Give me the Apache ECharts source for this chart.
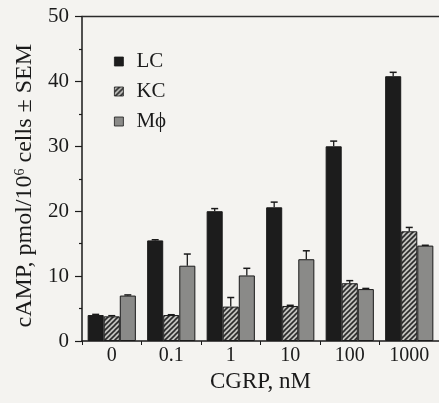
<!DOCTYPE html>
<html><head><meta charset="utf-8">
<script src="https://cdn.jsdelivr.net/npm/echarts@6/dist/echarts.min.js"></script>
<style>html,body{margin:0;padding:0;background:#f4f3f0}#c{width:439px;height:403px}</style>
</head><body><div id="c"></div>
<script>
const categories = ['0', '0.1', '1', '10', '100', '1000'];
const lcValues = [4.0, 15.5, 20.0, 20.6, 30.0, 40.8];
const lcErrors = [0.1, 0.1, 0.4, 0.8, 0.8, 0.6];
const kcValues = [3.8, 4.0, 5.3, 5.4, 8.9, 16.9];
const kcErrors = [0.1, 0.05, 1.4, 0.1, 0.4, 0.6];
const mfValues = [7.0, 11.6, 10.1, 12.6, 8.0, 14.7];
const mfErrors = [0.1, 1.8, 1.1, 1.3, 0.1, 0.05];
const seriesNames = ['LC', 'KC', 'M\u03D5'];
const yTicks = {min: 0, max: 50, interval: 10};

const FONT = '"Liberation Serif", "DejaVu Serif", serif';
const BAR_FRAC = 0.27;

// hatch pattern
const pc = document.createElement('canvas');
pc.width = 5; pc.height = 5;
const g = pc.getContext('2d');
g.fillStyle = '#c4c4c0'; g.fillRect(0, 0, 5, 5);
g.strokeStyle = '#2a2a2a'; g.lineWidth = 1.6;
for (let k = -1; k <= 2; k++) {
  g.beginPath(); g.moveTo(k * 5 - 1, 6); g.lineTo(k * 5 + 6, -1); g.stroke();
}
const hatch = {image: pc, repeat: 'repeat'};

const colors = ['#1c1c1c', hatch, '#8a8a88'];
const valueSets = [lcValues, kcValues, mfValues];
const errorSets = [lcErrors, kcErrors, mfErrors];

const barSeries = seriesNames.map((n, i) => ({
  name: n, type: 'bar', data: valueSets[i], barWidth: (BAR_FRAC * 100) + '%', barGap: '0%',
  itemStyle: {color: colors[i], borderColor: '#1a1a1a', borderWidth: 1},
  z: 2
}));

const errSeries = seriesNames.map((n, i) => ({
  type: 'custom', z: 3, silent: true,
  data: categories.map((c, j) => [j, valueSets[i][j], errorSets[i][j]]),
  renderItem: function (params, api) {
    const j = api.value(0), v = api.value(1), e = api.value(2);
    const band = api.size([1, 0])[0];
    const bw = band * BAR_FRAC;
    const base = api.coord([j, v]);
    const top = api.coord([j, v + e]);
    const x = base[0] + (i - 1) * bw;
    const cap = 3.5;
    return {
      type: 'group', children: [
        {type: 'line', shape: {x1: x, y1: base[1], x2: x, y2: top[1]}, style: {stroke: '#1a1a1a', lineWidth: 1.3}},
        {type: 'line', shape: {x1: x - cap, y1: top[1], x2: x + cap, y2: top[1]}, style: {stroke: '#1a1a1a', lineWidth: 1.5}}
      ]
    };
  }
}));

const chart = echarts.init(document.getElementById('c'), null, {renderer: 'canvas'});
chart.setOption({
  backgroundColor: '#f4f3f0',
  animation: false,
  textStyle: {fontFamily: FONT},
  legend: {
    orient: 'vertical', left: 109, top: 46, itemWidth: 9, itemHeight: 9, itemGap: 9,
    icon: 'rect',
    textStyle: {fontFamily: FONT, fontSize: 21, color: '#1a1a1a', padding: [0, 0, 0, 8]},
    data: seriesNames,
    itemStyle: {borderColor: '#1a1a1a', borderWidth: 0.8}
  },
  grid: {left: 82, right: -2, top: 16.5, bottom: 62},
  xAxis: [{
    type: 'category', data: categories,
    axisLine: {lineStyle: {color: '#1a1a1a', width: 1.5}},
    axisTick: {show: true, length: 4, lineStyle: {color: '#1a1a1a'}},
    axisLabel: {fontFamily: FONT, fontSize: 20, color: '#1a1a1a', margin: 5},
    name: 'CGRP, nM', nameLocation: 'middle', nameGap: 25,
    nameTextStyle: {fontFamily: FONT, fontSize: 23, color: '#1a1a1a'}
  }, {
    type: 'category', data: categories, position: 'top',
    axisLine: {show: true, lineStyle: {color: '#2a2a2a', width: 1.3}},
    axisTick: {show: false}, axisLabel: {show: false}
  }],
  yAxis: {
    type: 'value', min: yTicks.min, max: yTicks.max, interval: yTicks.interval,
    axisLine: {show: true, lineStyle: {color: '#1a1a1a', width: 1.5}},
    axisTick: {show: true, length: 7, lineStyle: {color: '#1a1a1a', width: 1.2}},
    minorTick: {show: true, splitNumber: 2, length: 3, lineStyle: {color: '#1a1a1a', width: 1.2}},
    splitLine: {show: false},
    axisLabel: {fontFamily: FONT, fontSize: 21, color: '#1a1a1a', margin: 13},
    name: '{a|cAMP, pmol/10}{s|6}{a| cells \u00B1 SEM}', nameLocation: 'middle', nameGap: 42,
    nameTextStyle: {
      fontFamily: FONT, fontSize: 24, color: '#1a1a1a', padding: [0, 14, 0, 0],
      rich: {
        a: {fontFamily: FONT, fontSize: 24, color: '#1a1a1a'},
        s: {fontFamily: FONT, fontSize: 14, color: '#1a1a1a', verticalAlign: 'top', padding: [0, 0, 9, 0]}
      }
    }
  },
  series: [...barSeries, ...errSeries]
});
</script></body></html>
